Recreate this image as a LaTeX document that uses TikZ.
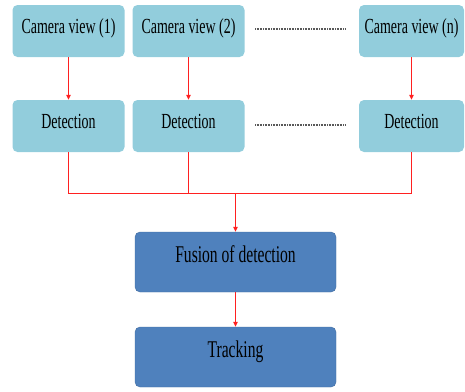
\documentclass[tikz,border=0pt]{standalone}
\usepackage{fontspec}
\setmainfont{Liberation Serif}
\newfontfamily\boxfont[FakeStretch=0.65]{Liberation Serif}
\usetikzlibrary{arrows.meta}
\definecolor{lightbox}{HTML}{92CDDC}
\definecolor{darkbox}{HTML}{4F81BD}
\definecolor{flowred}{HTML}{FF2020}
\tikzset{
  x=1pt, y=1pt,
  lbox/.style={fill=lightbox, draw=none, rounded corners=5pt, minimum height=52pt, inner sep=0pt, text height=12pt, text depth=7pt, font=\boxfont\fontsize{21.5}{23}\selectfont, text=black},
  dbox/.style={fill=darkbox, draw=darkbox!85!black, line width=0.4pt, rounded corners=5pt, minimum width=201pt, minimum height=60pt, inner sep=0pt, text height=12pt, text depth=12pt, font=\boxfont\fontsize{24}{26}\selectfont, text=black},
  flow/.style={draw=flowred, line width=1.2pt},
  arr/.style={flow, -{Triangle[length=5pt,width=4.5pt]}},
  dots/.style={draw=black!65, line width=1.2pt, dash pattern=on 0.8pt off 0.8pt}
}
\begin{document}
\begin{tikzpicture}
\useasboundingbox (0,0) rectangle (465,-391);
\node[lbox, minimum width=112pt] (c1) at (68.5,-31) {Camera view (1)};
\node[lbox, minimum width=112pt] (c2) at (188.5,-31) {Camera view (2)};
\node[lbox, minimum width=105pt] (cn) at (411.5,-31) {Camera view (n)};
\node[lbox, minimum width=112pt] (d1) at (68.5,-126) {Detection};
\node[lbox, minimum width=112pt] (d2) at (188.5,-126) {Detection};
\node[lbox, minimum width=105pt] (dn) at (411.5,-126) {Detection};
\node[dbox] (fus) at (235.5,-262) {Fusion of detection};
\node[dbox] (trk) at (235.5,-357) {Tracking};
\coordinate (j) at (235.5,-193.5);
\coordinate (t1a) at (255,-29);
\coordinate (t1b) at (345,-29);
\coordinate (t2a) at (255,-125);
\coordinate (t2b) at (345,-125);
\draw[dots] (t1a) -- (t1b);
\draw[dots] (t2a) -- (t2b);
\draw[arr] (c1) -- (d1);
\draw[arr] (c2) -- (d2);
\draw[arr] (cn) -- (dn);
\draw[flow] (d1.south) |- (j);
\draw[flow] (dn.south) |- (j);
\draw[flow] (d2.south) -- (d2.south |- j);
\draw[arr] (j) -- (fus);
\draw[arr] (fus) -- (trk);
\end{tikzpicture}
\end{document}
